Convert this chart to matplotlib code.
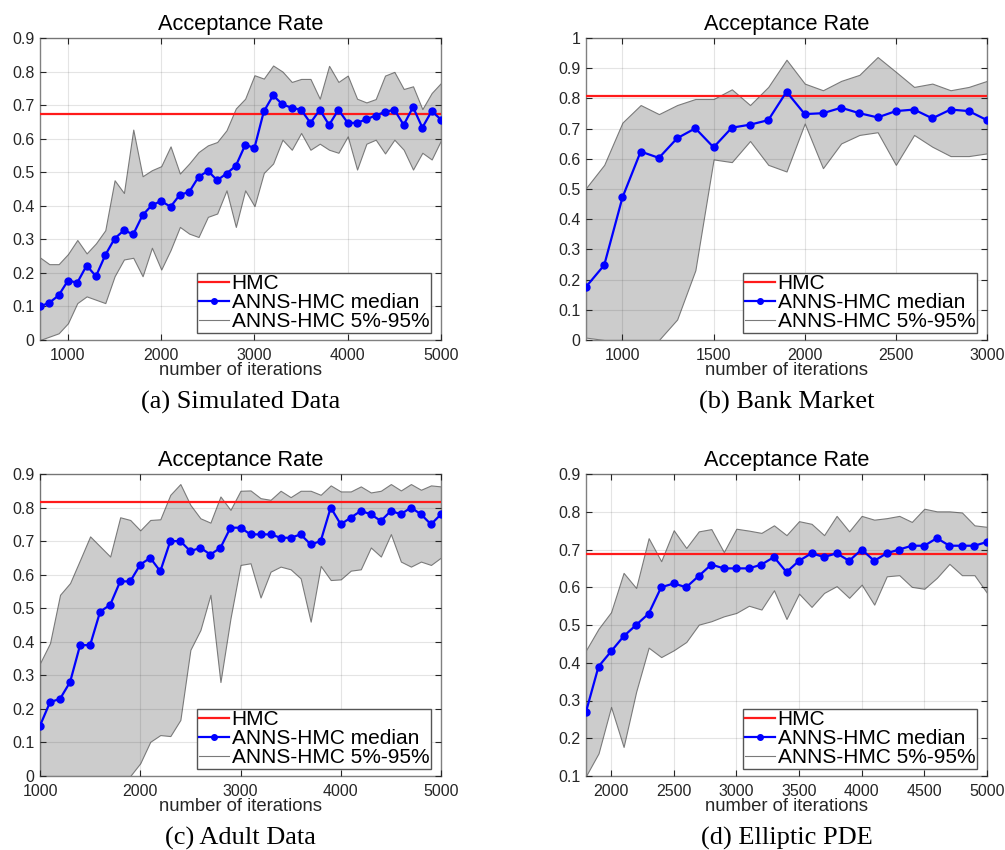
import numpy as np
import matplotlib
matplotlib.use('Agg')
import matplotlib.pyplot as plt
from matplotlib.lines import Line2D
from matplotlib.ticker import FuncFormatter

plt.rcParams['font.family'] = ['Liberation Sans', 'DejaVu Sans']

# (a) simulated data
iters_a = list(range(700, 5001, 100))
med_a = [0.10, 0.111, 0.133, 0.177, 0.171, 0.222, 0.19, 0.253, 0.302, 0.327, 0.315,
         0.372, 0.402, 0.414, 0.397, 0.433, 0.441, 0.486, 0.504, 0.476, 0.496, 0.519,
         0.581, 0.573, 0.681, 0.729, 0.702, 0.692, 0.686, 0.647, 0.686, 0.641, 0.686,
         0.647, 0.647, 0.658, 0.669, 0.68, 0.686, 0.641, 0.694, 0.633, 0.682, 0.657]
hi_a = [0.246, 0.226, 0.226, 0.256, 0.298, 0.258, 0.288, 0.327, 0.476, 0.438, 0.627,
        0.488, 0.506, 0.518, 0.577, 0.496, 0.526, 0.56, 0.58, 0.59, 0.625, 0.69,
        0.719, 0.789, 0.779, 0.818, 0.80, 0.769, 0.778, 0.778, 0.719, 0.817, 0.769,
        0.788, 0.719, 0.708, 0.718, 0.788, 0.799, 0.748, 0.756, 0.688, 0.736, 0.766]
lo_a = [0.0, 0.01, 0.02, 0.05, 0.11, 0.13, 0.12, 0.11, 0.19, 0.24, 0.245,
        0.19, 0.275, 0.21, 0.268, 0.337, 0.317, 0.307, 0.367, 0.377, 0.446, 0.337,
        0.446, 0.399, 0.498, 0.526, 0.597, 0.567, 0.617, 0.567, 0.585, 0.567, 0.558,
        0.607, 0.508, 0.585, 0.597, 0.556, 0.597, 0.567, 0.508, 0.558, 0.538, 0.595]
hmc_a = 0.673

# (b) bank market
iters_b = list(range(800, 3001, 100))
med_b = [0.176, 0.248, 0.472, 0.624, 0.603, 0.668, 0.701, 0.638, 0.703, 0.713, 0.728,
         0.822, 0.748, 0.751, 0.769, 0.751, 0.737, 0.758, 0.763, 0.734, 0.763, 0.758, 0.728]
hi_b = [0.503, 0.58, 0.72, 0.778, 0.748, 0.778, 0.798, 0.798, 0.83, 0.778, 0.838,
        0.928, 0.849, 0.827, 0.858, 0.878, 0.937, 0.888, 0.838, 0.849, 0.827, 0.838, 0.858]
lo_b = [0.008, 0.0, 0.0, 0.0, 0.0, 0.068, 0.231, 0.598, 0.589, 0.659, 0.58,
        0.558, 0.717, 0.569, 0.651, 0.679, 0.688, 0.58, 0.679, 0.64, 0.609, 0.609, 0.618]
hmc_b = 0.807

# (c) adult data
iters_c = list(range(1000, 5001, 100))
med_c = [0.15, 0.22, 0.23, 0.28, 0.39, 0.39, 0.49, 0.51, 0.58, 0.58, 0.63, 0.65, 0.61,
         0.70, 0.70, 0.67, 0.68, 0.66, 0.68, 0.74, 0.74, 0.72, 0.72, 0.72, 0.71, 0.71,
         0.72, 0.69, 0.70, 0.80, 0.75, 0.77, 0.79, 0.78, 0.76, 0.79, 0.78, 0.80, 0.78,
         0.75, 0.78]
hi_c = [0.336, 0.396, 0.54, 0.575, 0.644, 0.714, 0.684, 0.654, 0.771, 0.763, 0.732,
        0.763, 0.765, 0.838, 0.87, 0.808, 0.768, 0.755, 0.833, 0.793, 0.85, 0.851,
        0.828, 0.823, 0.85, 0.831, 0.85, 0.85, 0.838, 0.866, 0.848, 0.848, 0.863,
        0.845, 0.85, 0.87, 0.851, 0.87, 0.853, 0.866, 0.863]
lo_c = [0.0, 0.0, 0.0, 0.0, 0.0, 0.0, 0.0, 0.0, 0.0, 0.0, 0.038, 0.102, 0.122,
        0.119, 0.167, 0.376, 0.435, 0.54, 0.28, 0.47, 0.629, 0.634, 0.532, 0.609,
        0.624, 0.616, 0.589, 0.46, 0.626, 0.584, 0.586, 0.612, 0.616, 0.681, 0.654,
        0.721, 0.639, 0.624, 0.639, 0.629, 0.651]
hmc_c = 0.818

# (d) elliptic PDE
iters_d = list(range(1800, 5001, 100))
med_d = [0.27, 0.39, 0.43, 0.47, 0.50, 0.53, 0.60, 0.61, 0.60, 0.63, 0.66, 0.65, 0.65,
         0.65, 0.66, 0.68, 0.64, 0.67, 0.69, 0.68, 0.69, 0.67, 0.70, 0.67, 0.69, 0.70,
         0.71, 0.71, 0.73, 0.71, 0.71, 0.71, 0.72]
hi_d = [0.433, 0.49, 0.534, 0.638, 0.598, 0.73, 0.669, 0.751, 0.704, 0.748, 0.754,
        0.693, 0.755, 0.75, 0.744, 0.764, 0.738, 0.775, 0.768, 0.738, 0.789, 0.748,
        0.789, 0.779, 0.783, 0.789, 0.773, 0.808, 0.801, 0.801, 0.798, 0.764, 0.76]
lo_d = [0.1, 0.16, 0.283, 0.177, 0.323, 0.44, 0.415, 0.433, 0.455, 0.501, 0.51,
        0.523, 0.532, 0.551, 0.541, 0.592, 0.516, 0.583, 0.548, 0.585, 0.603, 0.572,
        0.607, 0.554, 0.629, 0.632, 0.601, 0.596, 0.625, 0.662, 0.632, 0.632, 0.585]
hmc_d = 0.688

captions = ['(a) Simulated Data', '(b) Bank Market', '(c) Adult Data', '(d) Elliptic PDE']

fig = plt.figure(figsize=(10.05, 8.5), dpi=100)

W, H = 1005.0, 850.0
boxes = [(40, 38, 401, 302), (586, 38, 401, 302), (40, 474, 401, 302), (586, 474, 401, 302)]

panels = [
    (iters_a, med_a, lo_a, hi_a, hmc_a, (700, 5000), [1000, 2000, 3000, 4000, 5000], (0, 0.9), np.arange(0, 0.91, 0.1)),
    (iters_b, med_b, lo_b, hi_b, hmc_b, (800, 3000), [1000, 1500, 2000, 2500, 3000], (0, 1.0), np.arange(0, 1.01, 0.1)),
    (iters_c, med_c, lo_c, hi_c, hmc_c, (1000, 5000), [1000, 2000, 3000, 4000, 5000], (0, 0.9), np.arange(0, 0.91, 0.1)),
    (iters_d, med_d, lo_d, hi_d, hmc_d, (1800, 5000), [2000, 2500, 3000, 3500, 4000, 4500, 5000], (0.1, 0.9), np.arange(0.1, 0.91, 0.1)),
]

fmt = FuncFormatter(lambda v, p: '%g' % round(v, 2))

for i, (x, med, lo, hi, hmc, xl, xt, yl, yt) in enumerate(panels):
    l, t, w, h = boxes[i]
    ax = fig.add_axes([l / W, 1 - (t + h) / H, w / W, h / H])
    ax.fill_between(x, lo, hi, facecolor='#cccccc', edgecolor='#7a7a7a', linewidth=0.8, zorder=1)
    ax.axhline(hmc, color='#ff1a1a', linewidth=1.6, zorder=3)
    ax.plot(x, med, color='#0000ff', linewidth=1.6, marker='o', markersize=5, zorder=4)
    ax.set_xlim(xl)
    ax.set_ylim(yl)
    ax.set_xticks(xt)
    ax.set_yticks(yt)
    ax.yaxis.set_major_formatter(fmt)
    ax.set_axisbelow(False)
    ax.grid(True, color='#262626', alpha=0.12, linewidth=0.8)
    ax.tick_params(direction='in', top=True, right=True, labelsize=11.5,
                   colors='#262626', length=4, width=0.8, pad=4)
    ax.tick_params(axis='x', pad=6)
    for s in ax.spines.values():
        s.set_color('#808080')
        s.set_linewidth(1.0)
    ax.set_title('Acceptance Rate', fontsize=15.7, pad=6)
    ax.set_xlabel('number of iterations', fontsize=13.3, color='#262626', labelpad=-1)
    handles = [Line2D([], [], color='#ff1a1a', linewidth=1.6),
               Line2D([], [], color='#0000ff', linewidth=1.6, marker='o', markersize=4),
               Line2D([], [], color='#7a7a7a', linewidth=0.8)]
    leg = ax.legend(handles, ['HMC', 'ANNS-HMC median', 'ANNS-HMC 5%-95%'],
                    loc='lower right', bbox_to_anchor=(1 - 10 / w, 7 / h),
                    fontsize=15, fancybox=False, framealpha=1, edgecolor='#555555',
                    handlelength=1.45, handletextpad=0.12, labelspacing=0.0,
                    borderpad=0.08, borderaxespad=0)
    leg.get_frame().set_linewidth(1.0)
    leg.set_zorder(6)
    fig.text((l + w / 2) / W, 1 - (t + h + 62) / H, captions[i],
             family=['Liberation Serif', 'DejaVu Serif'], fontsize=19,
             ha='center', va='center')

fig.savefig('out.png', dpi=100)
